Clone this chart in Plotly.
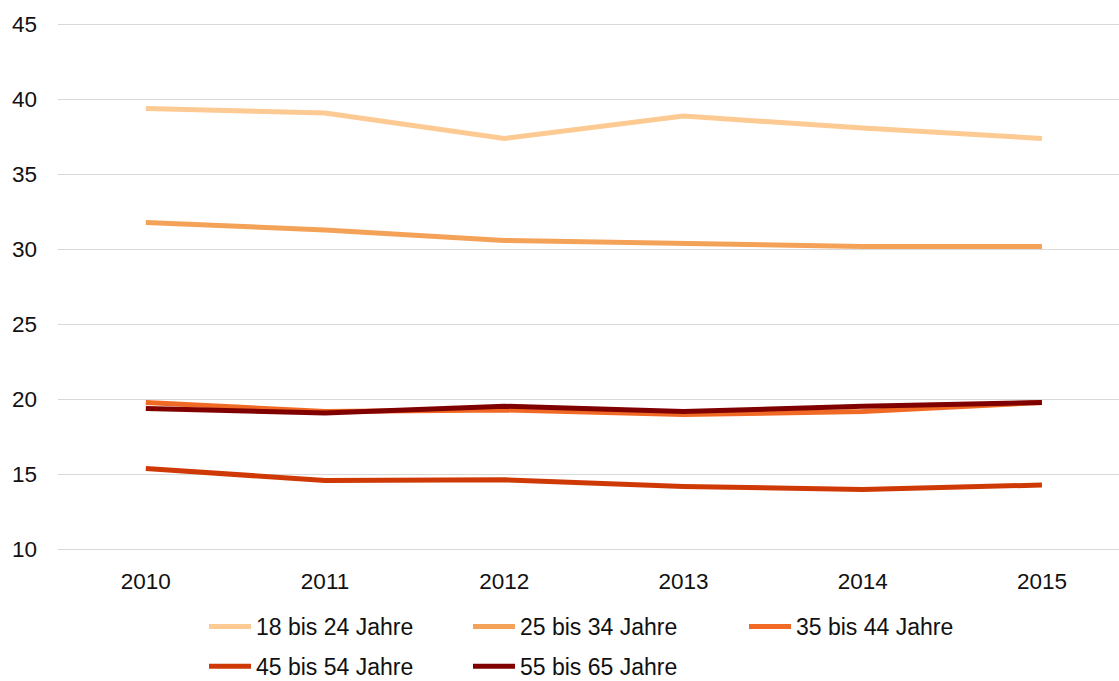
import plotly.graph_objects as go

years = [2010, 2011, 2012, 2013, 2014, 2015]
series_names = ["18 bis 24 Jahre", "25 bis 34 Jahre", "35 bis 44 Jahre",
                "45 bis 54 Jahre", "55 bis 65 Jahre"]
v_18_24 = [39.4, 39.1, 37.4, 38.9, 38.1, 37.4]
v_25_34 = [31.8, 31.3, 30.6, 30.4, 30.2, 30.2]
v_35_44 = [19.8, 19.2, 19.3, 19.0, 19.2, 19.8]
v_45_54 = [15.4, 14.6, 14.65, 14.2, 14.0, 14.3]
v_55_65 = [19.4, 19.1, 19.55, 19.2, 19.55, 19.8]
y_ticks = [10, 15, 20, 25, 30, 35, 40, 45]

colors = ["#FECA93", "#F5A259", "#F06A25", "#CF3906", "#800000"]
values = [v_18_24, v_25_34, v_35_44, v_45_54, v_55_65]
legend_ids = ["legend", "legend2", "legend3", "legend", "legend2"]

FONT = "Liberation Sans, Arial, sans-serif"
W, H = 1119, 681
ML, MT, MB = 58, 23, 130
PW = W - ML
PH = H - MT - MB

fig = go.Figure()
for name, vals, col, lg in zip(series_names, values, colors, legend_ids):
    fig.add_trace(go.Scatter(
        x=years, y=vals, name=name, mode="lines",
        line=dict(color=col, width=5),
        legend=lg, legendgroup=name,
    ))

leg_common = dict(orientation="v", yanchor="top", xanchor="left",
                  font=dict(family=FONT, size=23, color="#111111"),
                  bgcolor="rgba(0,0,0,0)", tracegroupgap=7,
                  itemwidth=42)
y_leg = (H - MB - 605) / PH

fig.update_layout(
    width=W, height=H,
    margin=dict(l=ML, r=0, t=MT, b=MB, autoexpand=False),
    paper_bgcolor="white", plot_bgcolor="white",
    font=dict(family=FONT, size=22.5, color="#111111"),
    xaxis=dict(
        tickvals=years, ticktext=[str(y) for y in years],
        range=[2009.51, 2015.43],
        showgrid=False, zeroline=False, showline=False,
        ticks="", ticklabelstandoff=14, automargin=False,
        tickfont=dict(family=FONT, size=22.5, color="#111111"),
    ),
    yaxis=dict(
        range=[9.9, 45.1], tickvals=y_ticks,
        showgrid=True, gridcolor="#D9D9D9", gridwidth=1.3,
        zeroline=False, showline=False, ticks="",
        ticklabelstandoff=20, automargin=False,
        tickfont=dict(family=FONT, size=22.5, color="#111111"),
    ),
    showlegend=True,
    legend=dict(x=(204 - ML) / PW, y=y_leg, **leg_common),
    legend2=dict(x=(468 - ML) / PW, y=y_leg, **leg_common),
    legend3=dict(x=(744 - ML) / PW, y=y_leg, **leg_common),
)

fig.write_html("out.html",
               config={"displayModeBar": False},
               post_script="document.body.style.margin='0';")
